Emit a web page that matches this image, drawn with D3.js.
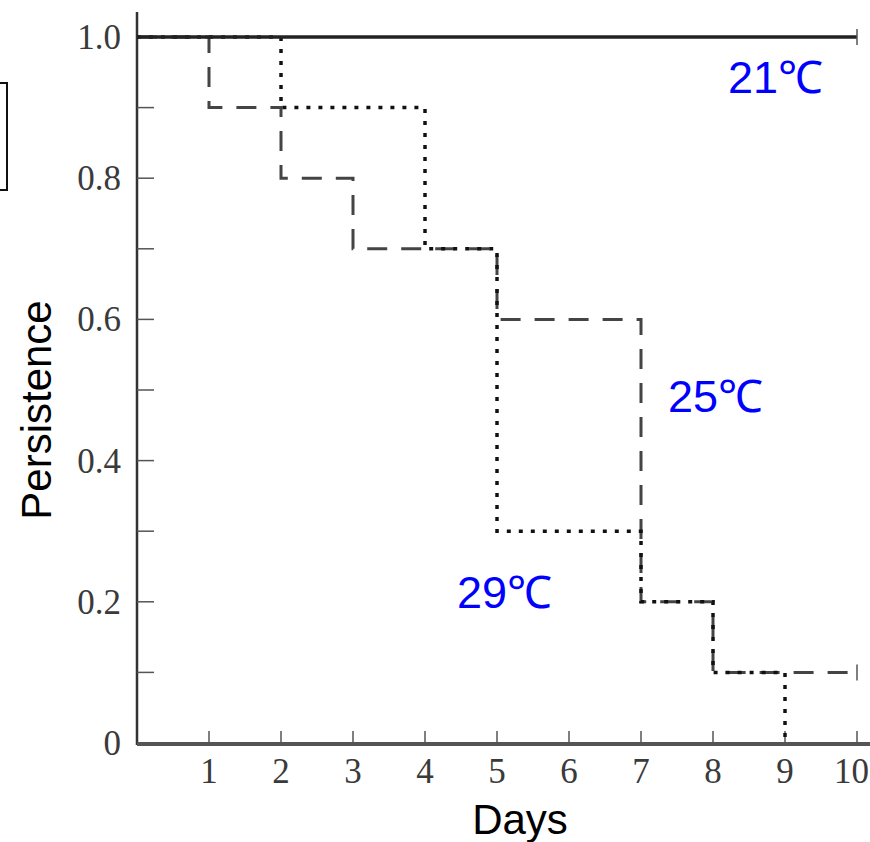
<!DOCTYPE html>
<html>
<head>
<meta charset="utf-8">
<script src="https://cdn.jsdelivr.net/npm/d3@7"></script>
<style>
  body { margin: 0; background: #fff; }
  svg { display: block; }
</style>
</head>
<body>
<div id="chart"></div>
<script>
// Data: step survival curves (persistence per day)
var yTicks = [0, 0.1, 0.2, 0.3, 0.4, 0.5, 0.6, 0.7, 0.8, 0.9, 1.0];
var yLabels = [0, 0.2, 0.4, 0.6, 0.8, 1.0];
var xLabels = [1, 2, 3, 4, 5, 6, 7, 8, 9, 10];

// [day, value] step points (value holds until the next day listed)
var temp21 = [[0, 1.0], [10, 1.0]];
var temp25 = [[0, 1.0], [1, 0.9], [2, 0.8], [3, 0.7], [5, 0.6], [7, 0.2], [8, 0.1], [10, 0.1]];
var temp29 = [[0, 1.0], [2, 0.9], [4, 0.7], [5, 0.3], [7, 0.2], [8, 0.1], [9, 0.0]];

var width = 870, height = 842;

var svg = d3.select("#chart").append("svg")
    .attr("width", width)
    .attr("height", height);

var x = d3.scaleLinear().domain([0, 10]).range([137, 857]);
var y = d3.scaleLinear().domain([0, 1]).range([743, 37]);

// clipped box at the left edge
svg.append("rect")
    .attr("x", -10).attr("y", 83)
    .attr("width", 17).attr("height", 107)
    .style("fill", "none").style("stroke", "#111").style("stroke-width", 2);

// y axis
var yAxis = svg.append("g");
yAxis.append("line")
    .attr("x1", x(0)).attr("x2", x(0))
    .attr("y1", 12).attr("y2", y(0) + 2)
    .style("stroke", "#333").style("stroke-width", 2.5);
yAxis.selectAll(".ytick").data(yTicks).enter().append("line")
    .attr("x1", x(0)).attr("x2", x(0) + 17)
    .attr("y1", function(d){ return y(d); })
    .attr("y2", function(d){ return y(d); })
    .style("stroke", "#555").style("stroke-width", 1.5);
yAxis.selectAll(".ylab").data(yLabels).enter().append("text")
    .attr("x", 121)
    .attr("y", function(d){ return y(d) + 12; })
    .attr("text-anchor", "end")
    .style("font-family", "Liberation Serif, serif")
    .style("font-size", "35px")
    .style("fill", "#3a3a3a")
    .text(function(d){ return d === 0 ? "0" : d3.format(".1f")(d); });

// x axis
var xAxis = svg.append("g");
xAxis.append("line")
    .attr("x1", x(0)).attr("x2", 870)
    .attr("y1", y(0) + 1).attr("y2", y(0) + 1)
    .style("stroke", "#555").style("stroke-width", 4);
xAxis.selectAll(".xtick").data(xLabels).enter().append("line")
    .attr("x1", function(d){ return x(d); })
    .attr("x2", function(d){ return x(d); })
    .attr("y1", y(0)).attr("y2", y(0) - 12)
    .style("stroke", "#555").style("stroke-width", 1.5);
// last label sits right at the page edge, so anchor it by its end
xAxis.selectAll(".xlab").data(xLabels).enter().append("text")
    .attr("x", function(d){ return d === 10 ? width - 1 : x(d); })
    .attr("y", 783)
    .attr("text-anchor", function(d){ return d === 10 ? "end" : "middle"; })
    .style("font-family", "Liberation Serif, serif")
    .style("font-size", "35px")
    .style("fill", "#3a3a3a")
    .text(function(d){ return d; });

// step lines
var line = d3.line()
    .x(function(d){ return x(d[0]); })
    .y(function(d){ return y(d[1]); })
    .curve(d3.curveStepAfter);

svg.append("path").datum(temp25)
    .attr("d", line)
    .style("fill", "none").style("stroke", "#444")
    .style("stroke-width", 3).style("stroke-dasharray", "20,14");

svg.append("path").datum(temp29)
    .attr("d", line)
    .style("fill", "none").style("stroke", "#111")
    .style("stroke-width", 3.5).style("stroke-dasharray", "4,8");

svg.append("path").datum(temp21)
    .attr("d", line)
    .style("fill", "none").style("stroke", "#222")
    .style("stroke-width", 3.5);

// "+" end markers
var ends = [temp21[temp21.length - 1], temp25[temp25.length - 1]];
svg.selectAll(".endmark").data(ends).enter().append("line")
    .attr("x1", function(d){ return x(d[0]); })
    .attr("x2", function(d){ return x(d[0]); })
    .attr("y1", function(d){ return y(d[1]) - 8; })
    .attr("y2", function(d){ return y(d[1]) + 8; })
    .style("stroke", "#555").style("stroke-width", 1.5);

// series labels
var seriesLabels = [
    {text: "21℃", x: 728, y: 93},
    {text: "25℃", x: 668, y: 412},
    {text: "29℃", x: 457, y: 608}
];
svg.selectAll(".slab").data(seriesLabels).enter().append("text")
    .attr("x", function(d){ return d.x; })
    .attr("y", function(d){ return d.y; })
    .style("font-family", "Liberation Sans, Arial, sans-serif")
    .style("font-size", "45px")
    .style("fill", "#0000ff")
    .text(function(d){ return d.text; });

// axis titles
svg.append("text")
    .attr("x", 520).attr("y", 834)
    .attr("text-anchor", "middle")
    .style("font-family", "Liberation Sans, Arial, sans-serif")
    .style("font-size", "42px")
    .style("fill", "#000")
    .text("Days");

svg.append("text")
    .attr("transform", "translate(51,410) rotate(-90)")
    .attr("text-anchor", "middle")
    .style("font-family", "Liberation Sans, Arial, sans-serif")
    .style("font-size", "42px")
    .style("fill", "#000")
    .text("Persistence");
</script>
</body>
</html>
